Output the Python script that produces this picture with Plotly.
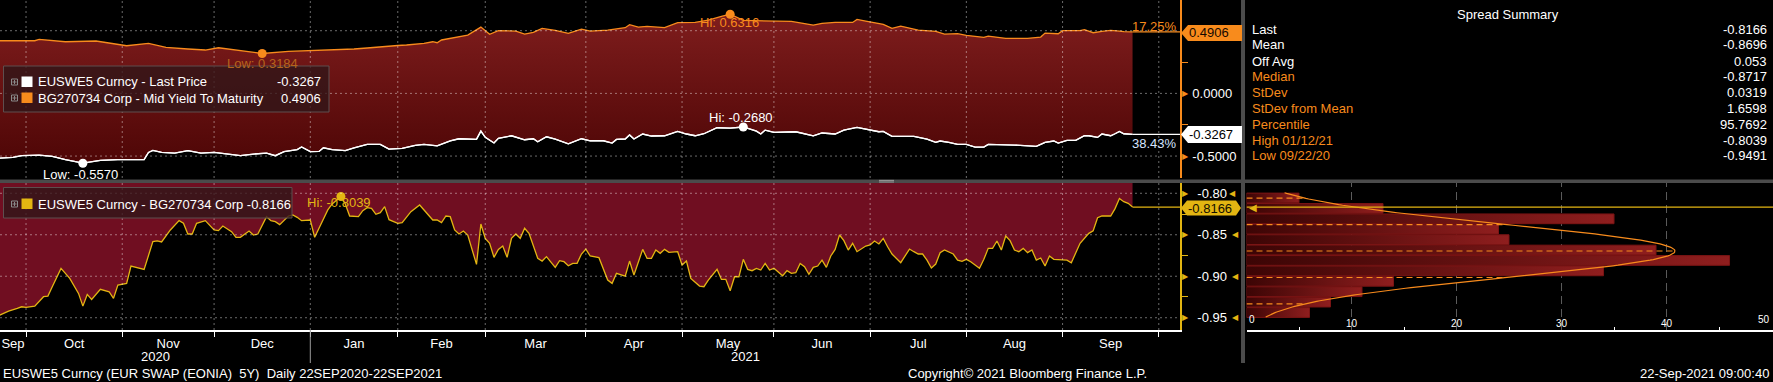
import math
import numpy as np
import plotly.graph_objects as go

W, H = 1773, 382
FONT = "Liberation Sans, Arial, sans-serif"

# ---------------- data (x = trading-day index from 22-Sep-2020) ----------------
ORANGE_POINTS = [
    (0, 0.420), (9, 0.420), (10, 0.431), (16, 0.412), (23, 0.418), (27, 0.394), (30, 0.380),
    (35, 0.399), (39, 0.367), (44, 0.354), (48, 0.346), (51, 0.364), (56, 0.340), (61, 0.3184),
    (67, 0.335), (72, 0.340), (77, 0.348), (82, 0.354), (85, 0.362), (89, 0.376), (92, 0.382),
    (94, 0.386), (98, 0.399), (100, 0.412), (101, 0.404), (102, 0.426), (105, 0.447), (108, 0.465),
    (111, 0.529), (113, 0.471), (115, 0.500), (119, 0.497), (121, 0.473), (123, 0.487), (125, 0.519),
    (128, 0.503), (131, 0.479), (134, 0.513), (136, 0.497), (140, 0.505), (144, 0.524), (145, 0.548),
    (147, 0.529), (149, 0.535), (153, 0.524), (156, 0.564), (160, 0.566), (163, 0.585), (166, 0.614),
    (168, 0.6316), (171, 0.582), (176, 0.580), (182, 0.574), (185, 0.556), (187, 0.545), (189, 0.559),
    (192, 0.566), (196, 0.566), (197, 0.590), (199, 0.577), (202, 0.556), (203, 0.551), (205, 0.519),
    (207, 0.537), (211, 0.505), (215, 0.495), (217, 0.473), (220, 0.476), (222, 0.463), (226, 0.447),
    (227, 0.457), (231, 0.439), (236, 0.439), (239, 0.449), (240, 0.481), (243, 0.476), (244, 0.500),
    (248, 0.500), (249, 0.508), (251, 0.484), (253, 0.495), (255, 0.503), (257, 0.497), (258, 0.492),
    (260, 0.4906),
]

WHITE_POINTS = [
    (0, -0.519), (4, -0.511), (6, -0.497), (10, -0.492), (13, -0.503), (16, -0.529), (20, -0.557),
    (24, -0.535), (28, -0.529), (31, -0.532), (34, -0.529), (35, -0.471), (36, -0.455), (38, -0.471),
    (41, -0.476), (44, -0.457), (47, -0.476), (50, -0.471), (53, -0.487), (56, -0.497), (59, -0.484),
    (62, -0.476), (64, -0.497), (66, -0.465), (69, -0.449), (70, -0.428), (72, -0.465), (74, -0.463),
    (75, -0.434), (77, -0.449), (80, -0.457), (82, -0.434), (85, -0.407), (88, -0.407), (90, -0.445),
    (93, -0.439), (96, -0.415), (98, -0.407), (101, -0.418), (104, -0.378), (106, -0.362), (108, -0.364),
    (110, -0.367), (111, -0.301), (112, -0.351), (114, -0.396), (115, -0.359), (118, -0.338), (120, -0.356),
    (121, -0.370), (123, -0.362), (124, -0.386), (126, -0.346), (128, -0.364), (131, -0.402), (134, -0.362),
    (136, -0.378), (139, -0.378), (141, -0.396), (142, -0.367), (144, -0.364), (145, -0.332), (146, -0.364),
    (148, -0.324), (150, -0.340), (153, -0.338), (156, -0.303), (158, -0.324), (160, -0.338), (162, -0.322),
    (165, -0.274), (168, -0.277), (171, -0.268), (174, -0.301), (175, -0.324), (176, -0.293), (178, -0.311),
    (182, -0.311), (183, -0.306), (187, -0.338), (189, -0.316), (192, -0.324), (194, -0.293), (197, -0.272),
    (199, -0.285), (202, -0.306), (203, -0.303), (205, -0.343), (210, -0.343), (213, -0.364), (215, -0.391),
    (216, -0.380), (218, -0.391), (220, -0.407), (222, -0.407), (224, -0.428), (226, -0.428), (227, -0.407),
    (233, -0.412), (238, -0.423), (240, -0.391), (242, -0.380), (243, -0.396), (245, -0.375), (247, -0.375),
    (249, -0.338), (250, -0.338), (252, -0.351), (253, -0.324), (255, -0.338), (256, -0.322), (257, -0.303),
    (258, -0.322), (260, -0.3267),
]

SPREAD_POINTS = [
    (0, -0.9491), (3, -0.9420), (5, -0.9388), (6, -0.9368), (7, -0.9376), (9, -0.9360), (11, -0.9247),
    (12, -0.9239), (13, -0.9126), (15, -0.8905), (17, -0.9026), (18, -0.9126), (19, -0.9207), (20, -0.9360),
    (21, -0.9219), (22, -0.9280), (24, -0.9158), (26, -0.9187), (27, -0.9267), (28, -0.9106), (30, -0.9086),
    (31, -0.8877), (32, -0.8893), (34, -0.8917), (36, -0.8583), (37, -0.8575), (38, -0.8587), (40, -0.8442),
    (42, -0.8330), (43, -0.8362), (44, -0.8491), (45, -0.8491), (46, -0.8362), (48, -0.8330), (50, -0.8442),
    (51, -0.8450), (52, -0.8394), (54, -0.8463), (55, -0.8531), (56, -0.8531), (58, -0.8455), (59, -0.8503),
    (60, -0.8491), (62, -0.8282), (63, -0.8330), (64, -0.8342), (65, -0.8378), (67, -0.8274), (68, -0.8261),
    (69, -0.8290), (70, -0.8330), (72, -0.8322), (73, -0.8531), (74, -0.8422), (76, -0.8201), (77, -0.8129),
    (79, -0.8039), (80, -0.8129), (81, -0.8274), (83, -0.8282), (84, -0.8209), (85, -0.8173), (86, -0.8181),
    (87, -0.8253), (88, -0.8233), (89, -0.8161), (90, -0.8318), (92, -0.8362), (93, -0.8354), (95, -0.8221),
    (97, -0.8141), (100, -0.8322), (101, -0.8322), (102, -0.8354), (103, -0.8274), (104, -0.8282),
    (105, -0.8442), (106, -0.8491), (107, -0.8455), (108, -0.8503), (110, -0.8857), (111, -0.8370),
    (112, -0.8543), (113, -0.8603), (114, -0.8772), (115, -0.8676), (116, -0.8636), (117, -0.8772),
    (118, -0.8543), (119, -0.8491), (120, -0.8543), (121, -0.8422), (122, -0.8483), (124, -0.8784),
    (125, -0.8817), (126, -0.8764), (128, -0.8893), (129, -0.8813), (130, -0.8825), (131, -0.8873),
    (132, -0.8845), (133, -0.8845), (134, -0.8732), (135, -0.8672), (136, -0.8756), (138, -0.8776),
    (139, -0.8917), (140, -0.9046), (141, -0.9086), (142, -0.8965), (144, -0.8998), (145, -0.8817),
    (146, -0.8986), (148, -0.8676), (149, -0.8784), (150, -0.8784), (151, -0.8684), (152, -0.8724),
    (153, -0.8676), (154, -0.8712), (156, -0.8704), (157, -0.8865), (158, -0.8817), (159, -0.9026),
    (161, -0.9118), (162, -0.9126), (163, -0.9046), (165, -0.8917), (166, -0.9038), (167, -0.9038),
    (168, -0.9175), (169, -0.9006), (170, -0.9006), (171, -0.8796), (172, -0.8917), (173, -0.8933),
    (174, -0.8905), (175, -0.8925), (176, -0.8845), (177, -0.8925), (178, -0.8905), (180, -0.8994),
    (181, -0.8933), (182, -0.8965), (183, -0.8957), (184, -0.8845), (185, -0.8885), (186, -0.8977),
    (187, -0.8893), (188, -0.8877), (189, -0.8805), (190, -0.8893), (191, -0.8756), (192, -0.8676),
    (193, -0.8503), (194, -0.8571), (195, -0.8684), (196, -0.8603), (197, -0.8704), (199, -0.8636),
    (200, -0.8623), (201, -0.8575), (202, -0.8611), (203, -0.8543), (204, -0.8644), (205, -0.8732),
    (207, -0.8837), (209, -0.8672), (210, -0.8704), (211, -0.8732), (212, -0.8732), (213, -0.8805),
    (214, -0.8901), (215, -0.8853), (216, -0.8716), (217, -0.8684), (219, -0.8732), (220, -0.8805),
    (221, -0.8821), (222, -0.8796), (223, -0.8825), (225, -0.8905), (226, -0.8796), (227, -0.8664),
    (228, -0.8664), (229, -0.8575), (230, -0.8684), (231, -0.8515), (232, -0.8571), (233, -0.8684),
    (234, -0.8704), (235, -0.8664), (236, -0.8716), (237, -0.8684), (238, -0.8805), (239, -0.8780),
    (240, -0.8877), (241, -0.8756), (242, -0.8796), (244, -0.8796), (245, -0.8805), (246, -0.8837),
    (247, -0.8716), (248, -0.8603), (250, -0.8483), (251, -0.8451), (252, -0.8294), (253, -0.8274),
    (255, -0.8274), (256, -0.8185), (257, -0.8062), (258, -0.8101), (259, -0.8121), (260, -0.8166),
]

MONTH_START_DAY = [7, 29, 50, 72, 92, 112, 135, 157, 178, 200, 222, 244, 266]
MONTH_LABELS = ["Sep", "Oct", "Nov", "Dec", "Jan", "Feb", "Mar", "Apr", "May", "Jun", "Jul", "Aug", "Sep"]
YEAR_LABELS = ["2020", "2021"]
YEAR_BREAK_DAY = 72

HIST_COUNTS = [6, 8, 11, 14, 34, 46, 39, 25, 24, 35, 13, 5]   # lowest bin first
HIST_EDGE_LOW = -0.9500
HIST_BIN_WIDTH = 0.01255
HIST_TICKS = [0, 10, 20, 30, 40, 50]
HIST_MINOR = [5, 15, 25, 35, 45]

SPREAD_LAST, SPREAD_MEAN, SPREAD_STDEV = -0.8166, -0.8696, 0.0319
SPREAD_HIGH, SPREAD_LOW = (79, -0.8039), (0, -0.9491)
ORANGE_LAST, ORANGE_HIGH, ORANGE_LOW = 0.4906, (168, 0.6316), (61, 0.3184)
WHITE_LAST, WHITE_HIGH, WHITE_LOW = -0.3267, (171, -0.2680), (20, -0.5570)
ORANGE_PCT, WHITE_PCT = "17.25%", "38.43%"

TOP_TICKS = [-0.5, 0.0, 0.5]
TOP_MINOR = [-0.25, 0.25]
BOT_TICKS = [-0.95, -0.90, -0.85, -0.80]
BOT_MINOR = [-0.925, -0.875, -0.825]

SUMMARY_LABELS = ["Last", "Mean", "Off Avg", "Median", "StDev", "StDev from Mean",
                  "Percentile", "High 01/12/21", "Low 09/22/20"]
SUMMARY_VALUES = ["-0.8166", "-0.8696", "0.053", "-0.8717", "0.0319", "1.6598",
                  "95.7692", "-0.8039", "-0.9491"]
SUMMARY_LABEL_IS_ORANGE = [False, False, False, True, True, True, True, True, True]

# ---------------- styling ----------------
ORANGE = "#f88b1c"
YELLOW = "#e3b512"
WHITE = "#ffffff"
BOT_RED = "#700e21"
GRID = "rgba(255,255,255,0.42)"

X_RANGE = [1.05, 270.85]
Y1_RANGE = [-0.675, 0.745]
Y2_RANGE = [-0.9648, -0.7864]
X3_RANGE = [0, 50.14]


def pxx(p):
    return p / W


def pxy(p):
    return 1 - p / H


X_DOMAIN = [0, pxx(1180)]
Y1_DOMAIN = [pxy(178), 1]
Y2_DOMAIN = [pxy(330), pxy(182)]
X3_DOMAIN = [pxx(1246.5), 1]

od, ov = zip(*ORANGE_POINTS)
wd, wv = zip(*WHITE_POINTS)
sd, sv = zip(*SPREAD_POINTS)

fig = go.Figure()

# ---- top panel: white then orange (gradient fill between) ----
fig.add_trace(go.Scatter(x=wd, y=wv, mode="lines", line=dict(color=WHITE, width=1.3),
                         xaxis="x", yaxis="y", hoverinfo="skip"))
fig.add_trace(go.Scatter(x=od, y=ov, mode="lines", line=dict(color=ORANGE, width=1.3),
                         fill="tonexty",
                         fillgradient=dict(type="vertical",
                                           colorscale=[[0, "#4e0606"], [1, "#7f1d1d"]]),
                         xaxis="x", yaxis="y", hoverinfo="skip"))
fig.add_trace(go.Scatter(x=wd, y=wv, mode="lines", line=dict(color=WHITE, width=1.3),
                         xaxis="x", yaxis="y", hoverinfo="skip"))
fig.add_trace(go.Scatter(x=[od[-1], X_RANGE[1]], y=[ORANGE_LAST] * 2, mode="lines",
                         line=dict(color=ORANGE, width=1.2), xaxis="x", yaxis="y", hoverinfo="skip"))
fig.add_trace(go.Scatter(x=[wd[-1], X_RANGE[1]], y=[WHITE_LAST] * 2, mode="lines",
                         line=dict(color=WHITE, width=1.2), xaxis="x", yaxis="y", hoverinfo="skip"))
fig.add_trace(go.Scatter(x=[ORANGE_HIGH[0], ORANGE_LOW[0]], y=[ORANGE_HIGH[1], ORANGE_LOW[1]],
                         mode="markers", marker=dict(color=ORANGE, size=9), cliponaxis=False,
                         xaxis="x", yaxis="y", hoverinfo="skip"))
fig.add_trace(go.Scatter(x=[WHITE_HIGH[0], WHITE_LOW[0]], y=[WHITE_HIGH[1], WHITE_LOW[1]],
                         mode="markers", marker=dict(color=WHITE, size=9), cliponaxis=False,
                         xaxis="x", yaxis="y", hoverinfo="skip"))

# ---- bottom panel: spread with red fill above ----
fig.add_trace(go.Scatter(x=[sd[0], sd[-1]], y=[Y2_RANGE[1]] * 2, mode="lines",
                         line=dict(width=0, color=BOT_RED), xaxis="x", yaxis="y2", hoverinfo="skip"))
fig.add_trace(go.Scatter(x=sd, y=sv, mode="lines", line=dict(color=YELLOW, width=1.3),
                         fill="tonexty", fillcolor=BOT_RED, xaxis="x", yaxis="y2", hoverinfo="skip"))
fig.add_trace(go.Scatter(x=[sd[-1], X_RANGE[1]], y=[SPREAD_LAST] * 2, mode="lines",
                         line=dict(color=YELLOW, width=1.2), xaxis="x", yaxis="y2", hoverinfo="skip"))
fig.add_trace(go.Scatter(x=[SPREAD_HIGH[0], SPREAD_LOW[0]], y=[SPREAD_HIGH[1], SPREAD_LOW[1]],
                         mode="markers", marker=dict(color=YELLOW, size=9), cliponaxis=False,
                         xaxis="x", yaxis="y2", hoverinfo="skip"))

# ---- histogram ----
gap = 0.0004
for i, c in enumerate(HIST_COUNTS):
    lo = HIST_EDGE_LOW + i * HIST_BIN_WIDTH + gap
    hi = HIST_EDGE_LOW + (i + 1) * HIST_BIN_WIDTH - gap
    fig.add_trace(go.Scatter(x=[0, c, c, 0, 0], y=[lo, lo, hi, hi, lo], mode="lines",
                             fill="toself",
                             fillgradient=dict(type="horizontal",
                                               colorscale=[[0, "#3c0505"], [1, "#8f1e1e"]]),
                             line=dict(color="#7a1414", width=1),
                             xaxis="x3", yaxis="y3", hoverinfo="skip"))

n_obs = sum(HIST_COUNTS)
peak = n_obs * HIST_BIN_WIDTH / (SPREAD_STDEV * math.sqrt(2 * math.pi))


def pdf(y):
    return peak * np.exp(-0.5 * ((np.asarray(y) - SPREAD_MEAN) / SPREAD_STDEV) ** 2)


curve_y = np.linspace(SPREAD_LOW[1], HIST_EDGE_LOW + len(HIST_COUNTS) * HIST_BIN_WIDTH, 200)
fig.add_trace(go.Scatter(x=pdf(curve_y), y=curve_y, mode="lines", line=dict(color=ORANGE, width=1.2),
                         xaxis="x3", yaxis="y3", hoverinfo="skip"))
for k in (-2, -1, 0, 1, 2):
    yv = SPREAD_MEAN + k * SPREAD_STDEV
    fig.add_trace(go.Scatter(x=[0, float(pdf(yv))], y=[yv, yv], mode="lines",
                             line=dict(color=ORANGE, width=1.2, dash="6px,4px"),
                             xaxis="x3", yaxis="y3", hoverinfo="skip"))
fig.add_trace(go.Scatter(x=X3_RANGE, y=[SPREAD_LAST] * 2, mode="lines",
                         line=dict(color=YELLOW, width=1.3), xaxis="x3", yaxis="y3", hoverinfo="skip"))

# ---------------- shapes ----------------
shapes = []
for d in MONTH_START_DAY:
    if X_RANGE[0] < d < X_RANGE[1]:
        for yr in ("y domain", "y2 domain"):
            shapes.append(dict(type="line", xref="x", yref=yr, x0=d, x1=d, y0=0, y1=1,
                               line=dict(color=GRID, width=1, dash="2px,3px"), layer="above"))
for v in TOP_TICKS:
    shapes.append(dict(type="line", xref="x domain", yref="y", x0=0, x1=1, y0=v, y1=v,
                       line=dict(color=GRID, width=1, dash="2px,3px"), layer="above"))
for v in BOT_TICKS:
    shapes.append(dict(type="line", xref="x domain", yref="y2", x0=0, x1=1, y0=v, y1=v,
                       line=dict(color=GRID, width=1, dash="2px,3px"), layer="above"))
# histogram vertical grid (inner ticks only)
for t in HIST_TICKS[1:-1]:
    shapes.append(dict(type="line", xref="x3", yref="y3 domain", x0=t, x1=t, y0=0, y1=1,
                       line=dict(color="#5c5c5c", width=1, dash="8px,5px"), layer="below"))

# year separator below the time axis
shapes.append(dict(type="line", xref="x", yref="paper", x0=YEAR_BREAK_DAY, x1=YEAR_BREAK_DAY,
                   y0=pxy(363), y1=pxy(330), line=dict(color="#9a9a9a", width=1)))
# panel separators
shapes.append(dict(type="rect", xref="paper", yref="paper", x0=0, x1=1, y0=pxy(183), y1=pxy(179.5),
                   fillcolor="#4b4b4b", line=dict(width=0), layer="above"))
shapes.append(dict(type="rect", xref="paper", yref="paper", x0=pxx(1241), x1=pxx(1245), y0=pxy(363), y1=1,
                   fillcolor="#4b4b4b", line=dict(width=0), layer="above"))
for yy in (180.4, 182.0):
    shapes.append(dict(type="line", xref="paper", yref="paper", x0=pxx(879), x1=pxx(894), y0=pxy(yy), y1=pxy(yy),
                       line=dict(color="#9a9a9a", width=1), layer="above"))

# legend boxes
shapes.append(dict(type="rect", xref="paper", yref="paper", x0=pxx(3.5), x1=pxx(329), y0=pxy(112), y1=pxy(66),
                   fillcolor="rgba(48,22,24,0.78)", line=dict(color="#5e4e4e", width=1), layer="above"))
shapes.append(dict(type="rect", xref="paper", yref="paper", x0=pxx(3.5), x1=pxx(292), y0=pxy(218), y1=pxy(187.5),
                   fillcolor="rgba(48,22,24,0.78)", line=dict(color="#5e4e4e", width=1), layer="above"))
for (y0, y1, col) in ((76.5, 87, WHITE), (92.5, 103, ORANGE), (198.5, 209, YELLOW)):
    shapes.append(dict(type="rect", xref="paper", yref="paper", x0=pxx(21.5), x1=pxx(32.5), y0=pxy(y1), y1=pxy(y0),
                       fillcolor=col, line=dict(width=0), layer="above"))
for yc in (82, 98, 204):
    shapes.append(dict(type="rect", xref="paper", yref="paper", x0=pxx(11.5), x1=pxx(17.5), y0=pxy(yc + 3), y1=pxy(yc - 3),
                       fillcolor="rgba(0,0,0,0)", line=dict(color="#8a8a8a", width=1), layer="above"))
    shapes.append(dict(type="line", xref="paper", yref="paper", x0=pxx(12.5), x1=pxx(16.5), y0=pxy(yc), y1=pxy(yc),
                       line=dict(color="#8a8a8a", width=1), layer="above"))
    shapes.append(dict(type="line", xref="paper", yref="paper", x0=pxx(14.5), x1=pxx(14.5), y0=pxy(yc + 2), y1=pxy(yc - 2),
                       line=dict(color="#8a8a8a", width=1), layer="above"))


def tag_path(xl, xr, yc, hh, tip, right_tip=0):
    pts = [(xl, yc), (xl + tip, yc - hh), (xr - right_tip, yc - hh), (xr, yc),
           (xr - right_tip, yc + hh), (xl + tip, yc + hh)]
    return "M " + " L ".join(f"{pxx(a):.5f},{pxy(b):.5f}" for a, b in pts) + " Z"


shapes.append(dict(type="path", xref="paper", yref="paper", path=tag_path(1181, 1242, 33, 8, 7),
                   fillcolor=ORANGE, line=dict(width=0), layer="above"))
shapes.append(dict(type="path", xref="paper", yref="paper", path=tag_path(1181, 1242, 134.5, 8.5, 7),
                   fillcolor=WHITE, line=dict(width=0), layer="above"))
shapes.append(dict(type="path", xref="paper", yref="paper", path=tag_path(1181, 1241, 208, 7.5, 6, 5),
                   fillcolor=YELLOW, line=dict(width=0), layer="above"))

# ---------------- annotations ----------------
ann = []


def txt(x_px, y_px, s, color=WHITE, size=13, xanchor="left"):
    ann.append(dict(x=pxx(x_px), y=pxy(y_px), xref="paper", yref="paper", text=s, showarrow=False,
                    xanchor=xanchor, yanchor="middle", font=dict(color=color, size=size, family=FONT)))


def point_label(pt, s, color, yref, dx, dy):
    ann.append(dict(x=pt[0], y=pt[1], xref="x", yref=yref, text=s, showarrow=False,
                    xanchor="left", yanchor="middle", xshift=dx, yshift=dy,
                    font=dict(color=color, size=13, family=FONT)))


point_label(ORANGE_HIGH, f"Hi: {ORANGE_HIGH[1]:.4f}", ORANGE, "y", -32, -8)
point_label(ORANGE_LOW, f"Low: {ORANGE_LOW[1]:.4f}", "#b5651c", "y", -37, -10)
point_label(WHITE_HIGH, f"Hi: {WHITE_HIGH[1]:.4f}", WHITE, "y", -36, 9)
point_label(WHITE_LOW, f"Low: {WHITE_LOW[1]:.4f}", WHITE, "y", -42, -11)
point_label(SPREAD_HIGH, f"Hi: {SPREAD_HIGH[1]:.4f}", YELLOW, "y2", -36, -6)
point_label(SPREAD_LOW, f"Low: {SPREAD_LOW[1]:.4f}", YELLOW, "y2", 3, 4)

# legends
txt(36, 82, "EUSWE5 Curncy - Last Price")
txt(323, 82, f"{WHITE_LAST:.4f}", xanchor="right")
txt(36, 98, "BG270734 Corp - Mid Yield To Maturity")
txt(323, 98, f"{ORANGE_LAST:.4f}", xanchor="right")
txt(36, 204, f"EUSWE5 Curncy - BG270734 Corp {SPREAD_LAST:.4f}")

# percentile labels at right end
txt(1179, 26, ORANGE_PCT, ORANGE, xanchor="right")
txt(1179, 144, WHITE_PCT, "#d6e4ff", xanchor="right")

# last value tags
txt(1187, 33, f"{ORANGE_LAST:.4f}", "#140800")
txt(1187, 134.5, f"{WHITE_LAST:.4f}", "#000000")
txt(1186, 208, f"{SPREAD_LAST:.4f}", "#140f00")

# axis arrow markers
for v in TOP_TICKS[:2]:
    ann.append(dict(x=pxx(1180), y=v, xref="paper", yref="y", text="▶", showarrow=False, xanchor="left",
                    yanchor="middle", font=dict(color=ORANGE, size=8, family="DejaVu Sans")))
for v in BOT_TICKS:
    ann.append(dict(x=pxx(1180), y=v, xref="paper", yref="y2", text="▶", showarrow=False, xanchor="left",
                    yanchor="middle", font=dict(color=YELLOW, size=8, family="DejaVu Sans")))
    ann.append(dict(x=pxx(1241 if v != -0.80 else 1238), y=v, xref="paper", yref="y2", text="◀",
                    showarrow=False, xanchor="right", yanchor="middle",
                    font=dict(color=YELLOW, size=8, family="DejaVu Sans")))
ann.append(dict(x=pxx(1247), y=SPREAD_LAST, xref="paper", yref="y2", text="◀", showarrow=False, xanchor="left",
                yanchor="middle", font=dict(color=YELLOW, size=10, family="DejaVu Sans")))

# histogram end tick labels (kept inside the page, as in the original)
ann.append(dict(x=HIST_TICKS[0], y=0, xref="x3", yref="y3 domain", text=str(HIST_TICKS[0]), showarrow=False,
                xanchor="left", yanchor="bottom", yshift=3, font=dict(color=WHITE, size=10, family=FONT)))
ann.append(dict(x=HIST_TICKS[-1], y=0, xref="x3", yref="y3 domain", text=str(HIST_TICKS[-1]), showarrow=False,
                xanchor="right", yanchor="bottom", yshift=3, font=dict(color=WHITE, size=10, family=FONT)))

# year labels
ann.append(dict(x=(X_RANGE[0] + YEAR_BREAK_DAY) / 2, y=pxy(356), xref="x", yref="paper", text=YEAR_LABELS[0],
                showarrow=False, yanchor="middle", font=dict(color=WHITE, size=13, family=FONT)))
ann.append(dict(x=(X_RANGE[1] + YEAR_BREAK_DAY) / 2, y=pxy(356), xref="x", yref="paper", text=YEAR_LABELS[1],
                showarrow=False, yanchor="middle", font=dict(color=WHITE, size=13, family=FONT)))

# spread summary
txt(1508, 15, "Spread Summary", xanchor="center")
row_y = [29, 45, 61, 77, 92.7, 108.5, 124.5, 140, 155.7]
for lab, val, is_or, yy in zip(SUMMARY_LABELS, SUMMARY_VALUES, SUMMARY_LABEL_IS_ORANGE, row_y):
    txt(1250, yy, lab, ORANGE if is_or else WHITE)
    txt(1769, yy, val, xanchor="right")

# footer
txt(1, 373, "EUSWE5 Curncy (EUR SWAP (EONIA)&nbsp; 5Y)&nbsp; Daily 22SEP2020-22SEP2021")
txt(906, 373, "Copyright© 2021 Bloomberg Finance L.P.")
txt(1771, 373, "22-Sep-2021 09:00:40", xanchor="right")

# month label positions (centre of each month span)
bounds = [X_RANGE[0]] + MONTH_START_DAY
month_mid = [(a + b) / 2 for a, b in zip(bounds[:-1], bounds[1:])]

fig.update_layout(
    width=W, height=H, margin=dict(l=0, r=0, t=0, b=0),
    paper_bgcolor="#000000", plot_bgcolor="#000000", showlegend=False,
    font=dict(family=FONT, color=WHITE, size=13),
    modebar=dict(bgcolor="rgba(0,0,0,0)", color="rgba(0,0,0,0)", activecolor="rgba(0,0,0,0)"),
    xaxis=dict(domain=X_DOMAIN, range=X_RANGE, anchor="y2", showgrid=False, zeroline=False,
               showline=True, linecolor=WHITE, linewidth=1.5,
               tickmode="array", tickvals=month_mid, ticktext=MONTH_LABELS, ticks="",
               tickfont=dict(color=WHITE, size=13, family=FONT), ticklabelstandoff=1,
               minor=dict(tickmode="array", tickvals=MONTH_START_DAY, ticks="outside", ticklen=5,
                          tickcolor=WHITE, tickwidth=1, showgrid=False)),
    yaxis=dict(domain=Y1_DOMAIN, range=Y1_RANGE, anchor="x", side="right", showgrid=False, zeroline=False,
               showline=True, linecolor=ORANGE, linewidth=1.5,
               tickmode="array", tickvals=TOP_TICKS, ticktext=[f"{v:.4f}" for v in TOP_TICKS], ticks="",
               tickfont=dict(color=WHITE, size=13, family=FONT), ticklabelstandoff=8,
               minor=dict(tickmode="array", tickvals=TOP_MINOR, ticks="outside", ticklen=6,
                          tickcolor=ORANGE, tickwidth=1, showgrid=False)),
    yaxis2=dict(domain=Y2_DOMAIN, range=Y2_RANGE, anchor="x", side="right", showgrid=False, zeroline=False,
                showline=True, linecolor=YELLOW, linewidth=1.5,
                tickmode="array", tickvals=BOT_TICKS, ticktext=[f"{v:.2f}" for v in BOT_TICKS], ticks="",
                tickfont=dict(color=WHITE, size=13, family=FONT), ticklabelstandoff=13,
                minor=dict(tickmode="array", tickvals=BOT_MINOR, ticks="outside", ticklen=6,
                           tickcolor=YELLOW, tickwidth=1, showgrid=False)),
    xaxis3=dict(domain=X3_DOMAIN, range=X3_RANGE, anchor="y3", showline=True, linecolor=WHITE, linewidth=1.5,
                zeroline=False, tickmode="array", tickvals=HIST_TICKS, ticks="", ticklabelposition="inside",
                tickfont=dict(color=WHITE, size=10, family=FONT), showgrid=False,
                minor=dict(tickmode="array", tickvals=HIST_MINOR, ticks="inside", ticklen=3,
                           tickcolor=WHITE, showgrid=False)),
    yaxis3=dict(domain=Y2_DOMAIN, range=Y2_RANGE, anchor="x3", visible=False),
    shapes=shapes,
    annotations=ann,
)

fig.write_html("out.html", config={"displaylogo": False},
               post_script="document.body.style.margin='0';document.body.style.background='#000';")
